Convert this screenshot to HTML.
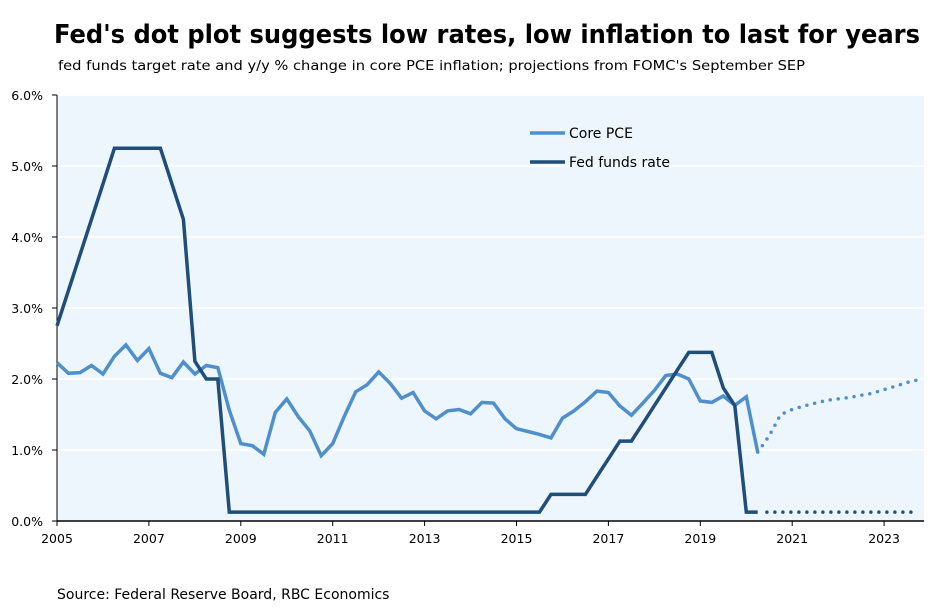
<!DOCTYPE html>
<html><head><meta charset="utf-8"><style>
html,body{margin:0;padding:0;background:#fff;}
svg{display:block;font-family:"DejaVu Sans","Liberation Sans",sans-serif;}
</style></head><body>
<svg id="chart" width="939" height="612" viewBox="0 0 939 612">
<text x="54" y="43" font-size="26" font-weight="bold" textLength="866" lengthAdjust="spacingAndGlyphs" fill="#000">Fed's dot plot suggests low rates, low inflation to last for years</text>
<text x="58" y="70" font-size="13.5" textLength="747" lengthAdjust="spacingAndGlyphs" fill="#000">fed funds target rate and y/y % change in core PCE inflation; projections from FOMC's September SEP</text>
<rect x="57" y="95" width="867" height="426" fill="#eef6fd"/>
<g id="grid"></g>
<g id="axes"></g>
<g id="series"></g>
<g>
<line x1="530" y1="133" x2="565" y2="133" stroke="#4f8fcc" stroke-width="3.5"/>
<text x="569" y="138" font-size="14" fill="#000">Core PCE</text>
<line x1="530" y1="162" x2="565" y2="162" stroke="#1f4e79" stroke-width="3.5"/>
<text x="569" y="167" font-size="14" fill="#000">Fed funds rate</text>
</g>
<text x="57" y="599" font-size="14" fill="#000">Source: Federal Reserve Board, RBC Economics</text>
</svg>
<script>
const startYear = 2005;
const yTicks = [0,1,2,3,4,5,6];
const xTickYears = [2005,2007,2009,2011,2013,2015,2017,2019,2021,2023];
const corePce = [2.23,2.08,2.09,2.19,2.07,2.32,2.48,2.26,2.43,2.08,2.02,2.24,2.07,2.19,2.16,1.56,1.09,1.06,0.94,1.53,1.72,1.47,1.27,0.92,1.09,1.47,1.82,1.92,2.10,1.94,1.73,1.81,1.55,1.44,1.55,1.57,1.51,1.67,1.66,1.44,1.30,1.26,1.22,1.17,1.45,1.55,1.68,1.83,1.81,1.62,1.49,1.66,1.84,2.05,2.07,2.00,1.69,1.67,1.76,1.63,1.75,0.97];
const corePceProj = [0.97,1.2,1.5,1.57,1.62,1.66,1.70,1.72,1.74,1.77,1.80,1.85,1.90,1.95,1.99];
const fedFunds = [2.75,3.25,3.75,4.25,4.75,5.25,5.25,5.25,5.25,5.25,4.75,4.25,2.25,2.0,2.0,0.125,0.125,0.125,0.125,0.125,0.125,0.125,0.125,0.125,0.125,0.125,0.125,0.125,0.125,0.125,0.125,0.125,0.125,0.125,0.125,0.125,0.125,0.125,0.125,0.125,0.125,0.125,0.125,0.375,0.375,0.375,0.375,0.625,0.875,1.125,1.125,1.375,1.625,1.875,2.125,2.375,2.375,2.375,1.875,1.625,0.125,0.125];
const fedFundsProj = [0.125,0.125,0.125,0.125,0.125,0.125,0.125,0.125,0.125,0.125,0.125,0.125,0.125,0.125];

const NS="http://www.w3.org/2000/svg";
const X0=57, X1=924, Y0=521, Y1=95, perYear=45.95;
function xq(i){return X0+i*perYear/4;}
function xy(yr){return X0+(yr-startYear)*perYear;}
function yv(v){return Y0-(v/6)*(Y0-Y1);}
function mk(tag,attrs,parent){const e=document.createElementNS(NS,tag);for(const k in attrs)e.setAttribute(k,attrs[k]);parent.appendChild(e);return e;}
const grid=document.getElementById('grid'),axes=document.getElementById('axes'),series=document.getElementById('series');
yTicks.forEach(t=>{
  if(t>0){const g=mk('line',{x1:X0,x2:X1,y1:yv(t),y2:yv(t),stroke:'#fff','stroke-width':1.5},grid);
  
  }
  const tk=mk('line',{x1:X0-5,x2:X0,y1:yv(t),y2:yv(t),stroke:'#000','stroke-width':1},axes);
  
  
  const lb=mk('text',{x:X0-14,y:yv(t)+5,'text-anchor':'end','font-size':12.5,fill:'#000'},axes);
  lb.textContent=t.toFixed(1)+'%';
  
  
});
xTickYears.forEach(yr=>{
  const tk=mk('line',{x1:xy(yr),x2:xy(yr),y1:Y0,y2:Y0+5,stroke:'#000','stroke-width':1},axes);
  
  
  const lb=mk('text',{x:xy(yr),y:Y0+22,'text-anchor':'middle','font-size':12.5,fill:'#000'},axes);
  lb.textContent=yr;
  
  
});
const ya=mk('line',{x1:X0,x2:X0,y1:Y1,y2:Y0,stroke:'#000','stroke-width':1},axes);


const xa=mk('line',{x1:X0,x2:X1,y1:Y0,y2:Y0,stroke:'#000','stroke-width':1.5},axes);


function pts(arr,off){return arr.map((v,i)=>xq(i+off).toFixed(1)+','+yv(v).toFixed(1)).join(' ');}
const projOff=corePce.length-1;
const p1=mk('polyline',{points:pts(corePceProj,projOff),fill:'none',stroke:'#4f8fcc','stroke-width':3.5,'stroke-linecap':'round','stroke-dasharray':'0 8'},series);


const p2=mk('polyline',{points:pts(fedFundsProj,fedFunds.length-1+0.8),fill:'none',stroke:'#1f4e79','stroke-width':3.5,'stroke-linecap':'round','stroke-dasharray':'0 8'},series);


const l1=mk('polyline',{points:pts(corePce,0),fill:'none',stroke:'#4f8fcc','stroke-width':3.5,'stroke-linejoin':'miter'},series);


const l2=mk('polyline',{points:pts(fedFunds,0),fill:'none',stroke:'#1f4e79','stroke-width':3.5,'stroke-linejoin':'miter'},series);


</script>
</body></html>
